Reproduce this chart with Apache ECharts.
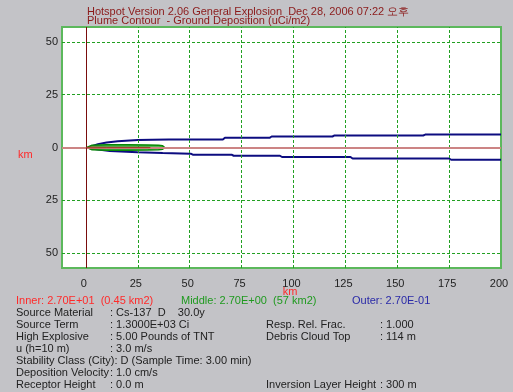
<!DOCTYPE html>
<html>
<head>
<meta charset="utf-8">
<script src="https://cdn.jsdelivr.net/npm/echarts@6/dist/echarts.min.js"></script>
<style>
html,body{margin:0;padding:0;background:#c3c3c7;}
#chart{width:513px;height:392px;}
</style>
</head>
<body>
<div id="chart"></div>
<script>
// ---- data ----
const xTicks = [0, 25, 50, 75, 100, 125, 150, 175, 200];
const yTicks = [-50, -25, 0, 25, 50];
const xGrid = [25, 50, 75, 100, 125, 150, 175];
const yGrid = [-50, -25, 25, 50];
const outerUpper = [[1.5,0.2],[2.4,0.7],[5.8,1.6],[10,2.4],[15.4,3.0],[25,3.5],[32,3.7],[40,3.8],[66,3.8],[67,4.6],[88.5,4.6],[89.5,5.2],[118.8,5.2],[119.8,5.7],[162.5,5.7],[163.5,6.1],[200,6.1]];
const outerLower = [[1.5,-0.2],[2.4,-0.5],[6,-1.0],[11.5,-1.6],[25,-2.2],[37,-2.6],[50.5,-2.9],[51.5,-3.4],[70.2,-3.4],[71.2,-3.9],[93.5,-3.9],[94.5,-4.5],[127.5,-4.5],[128.5,-5.2],[175,-5.2],[176,-5.8],[200,-5.8]];
const middleUpper = [[0.5,0],[1.2,0.8],[3,1.1],[10,1.25],[20,1.3],[30,1.2],[35,1.1],[37,0.8],[38,0]];
const middleLower = [[0.5,0],[1.2,-0.8],[3,-1.1],[10,-1.25],[20,-1.3],[30,-1.2],[35,-1.1],[37,-0.8],[38,0]];
const innerUpper = [[0.3,0],[0.8,0.3],[2,0.2],[10,0.1],[30,0.05],[31,0]];
const innerLower = [[0.3,0],[0.8,-0.3],[2,-0.2],[10,-0.1],[30,-0.05],[31,0]];
const titleLines = ['Hotspot Version 2.06 General Explosion  Dec 28, 2006 07:22 오후', 'Plume Contour  - Ground Deposition (uCi/m2)'];
const legendItems = [['Inner: 2.70E+01  (0.45 km2)', '#ff2a2a'], ['Middle: 2.70E+00  (57 km2)', '#1f9a1f'], ['Outer: 2.70E-01', '#2a2aa8']];
const paramsLeft = [['Source Material', ': Cs-137  D    30.0y'], ['Source Term', ': 1.3000E+03 Ci'], ['High Explosive', ': 5.00 Pounds of TNT'], ['u (h=10 m)', ': 3.0 m/s'], ['Stability Class (City): D (Sample Time: 3.00 min)', ''], ['Deposition Velocity', ': 1.0 cm/s'], ['Receptor Height', ': 0.0 m']];
const paramsRight = [[1, 'Resp. Rel. Frac.', ': 1.000'], [2, 'Debris Cloud Top', ': 114 m'], [6, 'Inversion Layer Height', ': 300 m']];
const axisName = 'km';

// ---- chart ----
const FONT = 'Liberation Sans, Arial, sans-serif';
const chart = echarts.init(document.getElementById('chart'));
const graphics = [];
titleLines.forEach((t, i) => graphics.push({type:'text', left:87, top:6 + i*9, style:{text:t, fill:'#8b1a1a', font:'11px ' + FONT}}));
let lx = [16, 181, 352];
legendItems.forEach((it, i) => graphics.push({type:'text', x:lx[i], y:301, style:{text:it[0], fill:it[1], font:'11px ' + FONT, verticalAlign:'middle'}}));
paramsLeft.forEach((p, i) => {
  const y = 313 + i*12;
  graphics.push({type:'text', x:16, y:y, style:{text:p[0], fill:'#222', font:'11px ' + FONT, verticalAlign:'middle'}});
  if (p[1]) graphics.push({type:'text', x:110, y:y, style:{text:p[1], fill:'#222', font:'11px ' + FONT, verticalAlign:'middle'}});
});
paramsRight.forEach(p => {
  const y = 313 + p[0]*12;
  graphics.push({type:'text', x:266, y:y, style:{text:p[1], fill:'#222', font:'11px ' + FONT, verticalAlign:'middle'}});
  graphics.push({type:'text', x:380, y:y, style:{text:p[2], fill:'#222', font:'11px ' + FONT, verticalAlign:'middle'}});
});
graphics.push({type:'text', x:18, y:155, style:{text:axisName, fill:'#ff2a2a', font:'11px ' + FONT, verticalAlign:'middle'}});
graphics.push({type:'text', x:290, y:292, style:{text:axisName, fill:'#ff2a2a', font:'11px ' + FONT, verticalAlign:'middle', align:'center'}});

const lineS = (data, color, width, z) => ({type:'line', data:data, symbol:'none', silent:true, lineStyle:{color:color, width:width}, z:z, animation:false});

chart.setOption({
  animation:false,
  backgroundColor:'#c3c3c7',
  grid:{left:62, right:12, top:27, bottom:124, show:true, backgroundColor:'#ffffff', borderColor:'#5cb85c', borderWidth:2},
  xAxis:{type:'value', min:-11.5, max:200, axisLine:{show:false}, axisTick:{show:false}, splitLine:{show:false},
    axisLabel:{customValues:xTicks, color:'#222', fontFamily:FONT, fontSize:11, margin:10, padding:[0,4,0,0]}},
  yAxis:{type:'value', min:-57, max:57, axisLine:{show:false}, axisTick:{show:false}, splitLine:{show:false},
    axisLabel:{customValues:yTicks, color:'#222', fontFamily:FONT, fontSize:11, margin:4, formatter:v => String(Math.abs(v))}},
  graphic:graphics,
  series:[
    Object.assign(lineS([], '#000', 0, 1), {markLine:{silent:true, symbol:'none', label:{show:false}, animation:false,
      data: xGrid.map(v => ({xAxis:v, lineStyle:{color:'#22a022', type:[3,2], width:1}}))
        .concat(yGrid.map(v => ({yAxis:v, lineStyle:{color:'#22a022', type:[3,2], width:1}})))
        .concat([{yAxis:0, lineStyle:{color:'#cc8484', type:'solid', width:2}}, {xAxis:0, lineStyle:{color:'#7a0d0d', type:'solid', width:1}}])}}),
    lineS(outerUpper, '#0c0c80', 2, 3),
    lineS(outerLower, '#0c0c80', 2, 3),
    Object.assign(lineS(middleUpper, '#078807', 1.5, 4), {areaStyle:{color:'#4fb84f', opacity:1}}),
    Object.assign(lineS(middleLower, '#078807', 1.5, 4), {areaStyle:{color:'#4fb84f', opacity:1}}),
    lineS(innerUpper, '#a0402a', 1, 5),
    lineS(innerLower, '#a0402a', 1, 5)
  ]
});
</script>
</body>
</html>
